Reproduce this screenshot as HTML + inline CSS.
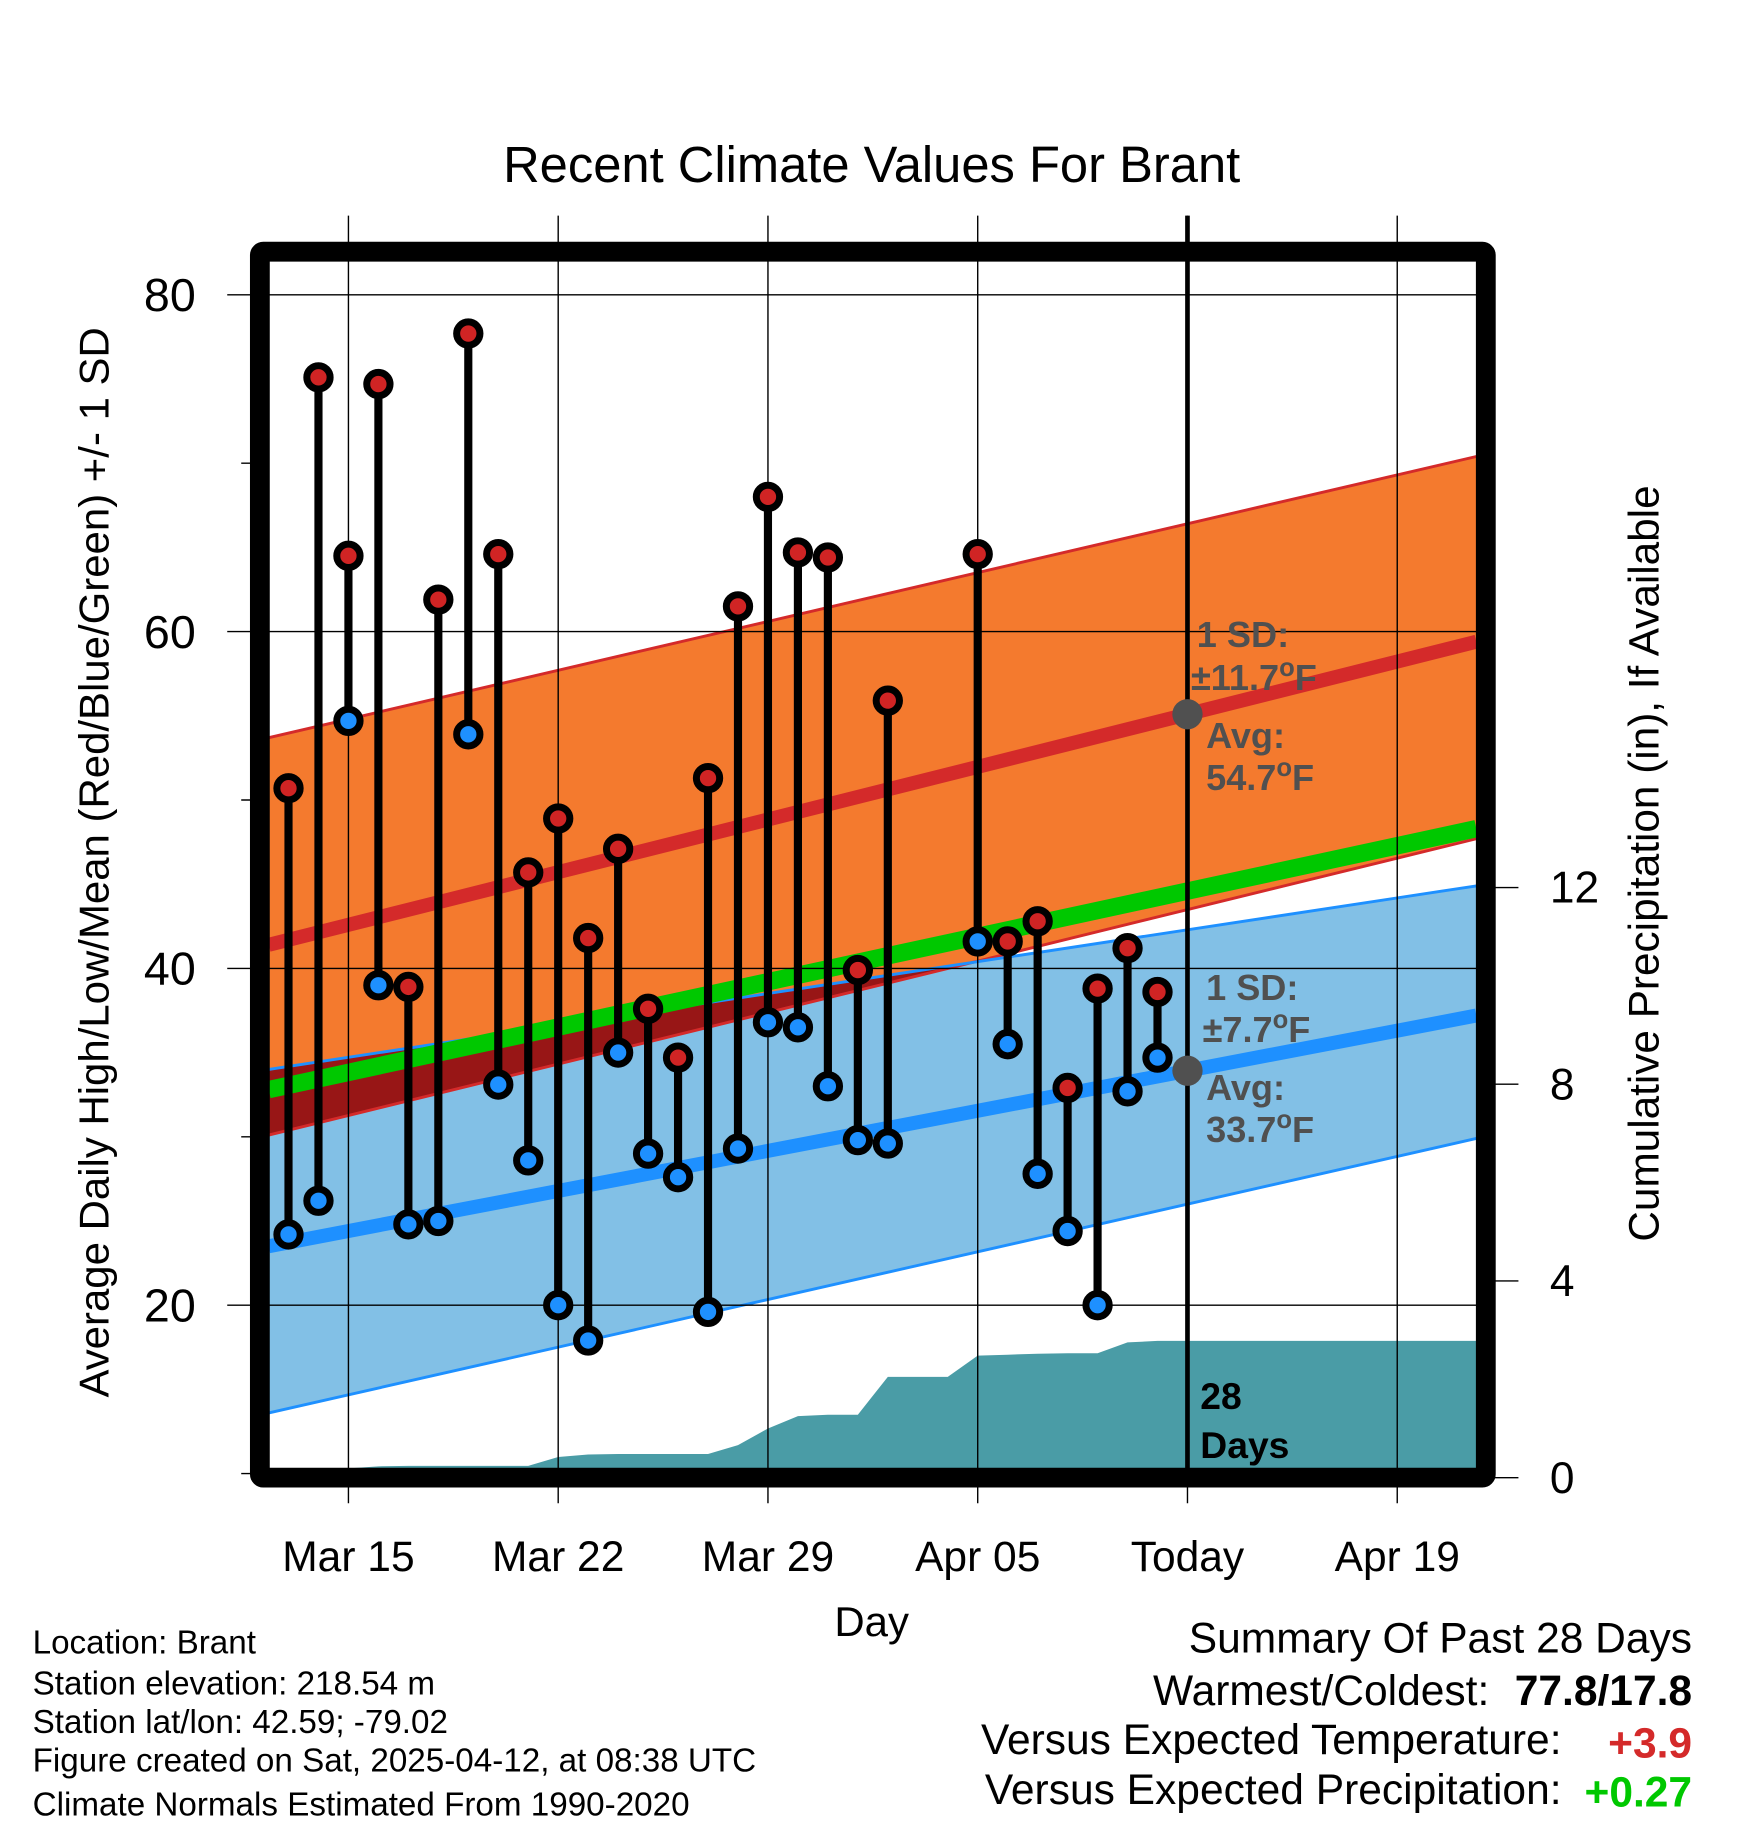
<!DOCTYPE html>
<html><head><meta charset="utf-8"><style>
html,body{margin:0;padding:0;background:#fff;}
svg{display:block;font-family:"Liberation Sans",sans-serif;}
</style></head><body>
<svg id="chart" xmlns="http://www.w3.org/2000/svg" width="1748" height="1828" viewBox="0 0 1500 1568.65">
<g id="bands"></g><g id="grid"></g><g id="marks"></g><g id="frame"></g><g id="labels"></g>
</svg>
<script>
// data (day index relative to Mar 15)
const days = [-2,-1,0,1,2,3,4,5,6,7,8,9,10,11,12,13,14,15,16,17,18,21,22,23,24,25,26,27];
const highs = [50.7,75.1,64.5,74.7,38.9,61.9,77.7,64.6,45.7,48.9,41.8,47.1,37.6,34.7,51.3,61.5,68.0,64.7,64.4,39.9,55.9,64.6,41.6,42.8,32.9,38.8,41.2,38.6];
const lows = [24.2,26.2,54.7,39.0,24.8,25.0,53.9,33.1,28.6,20.0,17.9,35.0,29.0,27.6,19.6,29.3,36.8,36.5,33.0,29.8,29.6,41.6,35.5,27.8,24.4,20.0,32.7,34.7];
const normalDays = [-2.66,37.64];
const avgHigh = [41.4,59.4];
const avgLow = [23.5,37.2];
const avgMean = [32.8,48.3];
const orangeTop = [53.7,70.4];
const orangeBot = [30.1,47.7];
const blueTop = [34.0,44.9];
const blueBot = [13.6,29.9];
const precipDays = [-2.66,-2,-1,0,1,2,3,4,5,6,7,8,9,10,11,12,13,14,15,16,17,18,19,20,21,22,23,24,25,26,27,37.64];
const precipCum = [0,0,0,0,0.23,0.24,0.24,0.24,0.24,0.24,0.42,0.47,0.48,0.48,0.48,0.48,0.66,1.0,1.25,1.28,1.28,2.05,2.05,2.05,2.48,2.5,2.52,2.53,2.53,2.75,2.78,2.78];
const xTicks = [0,7,14,21,28,35];
const xTickLabels = ["Mar 15","Mar 22","Mar 29","Apr 05","Today","Apr 19"];
const yTicks = [20,40,60,80];
const yMinor = [10,30,50,70];
const pTicks = [0,4,8,12];

const NS="http://www.w3.org/2000/svg";
const L=231,R=1267,T=224,B=1260;
const X=d=>299+d*180/7;
const Y=v=>253+(80-v)*14.45;
const P=v=>1268-v*42.2;
function mk(parent,tag,attrs,txt){const e=document.createElementNS(NS,tag);for(const k in attrs)e.setAttribute(k,attrs[k]);if(txt!==undefined)e.textContent=txt;document.getElementById(parent).appendChild(e);return e;}
function lin(arr,d){const t=(d-normalDays[0])/(normalDays[1]-normalDays[0]);return arr[0]+(arr[1]-arr[0])*t;}
const xa=normalDays[0],xb=normalDays[1];
function band(top,bot){return `${X(xa)},${Y(top[0])} ${X(xb)},${Y(top[1])} ${X(xb)},${Y(bot[1])} ${X(xa)},${Y(bot[0])}`;}

let e;
e=mk('bands','polygon',{points:band(blueTop,blueBot),fill:'#82c0e6'});

e=mk('bands','polygon',{points:band(orangeTop,orangeBot),fill:'#f47a2e'});

const dc=(()=>{const a0=orangeBot[0]-blueTop[0],a1=orangeBot[1]-blueTop[1];const t=a0/(a0-a1);return xa+(xb-xa)*t;})();
e=mk('bands','polygon',{points:`${X(xa)},${Y(blueTop[0])} ${X(dc)},${Y(lin(blueTop,dc))} ${X(xa)},${Y(orangeBot[0])}`,fill:'#981616'});

e=mk('bands','line',{x1:X(xa),y1:Y(orangeTop[0]),x2:X(xb),y2:Y(orangeTop[1]),stroke:'#d42a2a','stroke-width':2.5});

e=mk('bands','line',{x1:X(xa),y1:Y(orangeBot[0]),x2:X(xb),y2:Y(orangeBot[1]),stroke:'#d42a2a','stroke-width':2.5});

e=mk('bands','line',{x1:X(xa),y1:Y(blueTop[0]),x2:X(xb),y2:Y(blueTop[1]),stroke:'#1e90ff','stroke-width':2.5});

e=mk('bands','line',{x1:X(xa),y1:Y(blueBot[0]),x2:X(xb),y2:Y(blueBot[1]),stroke:'#1e90ff','stroke-width':2.5});

e=mk('bands','line',{x1:X(xa),y1:Y(avgMean[0]),x2:X(xb),y2:Y(avgMean[1]),stroke:'#00c800','stroke-width':15});

e=mk('bands','line',{x1:X(xa),y1:Y(avgHigh[0]),x2:X(xb),y2:Y(avgHigh[1]),stroke:'#d42a2a','stroke-width':12});

e=mk('bands','line',{x1:X(xa),y1:Y(avgLow[0]),x2:X(xb),y2:Y(avgLow[1]),stroke:'#1e90ff','stroke-width':12});

let pp=`${X(precipDays[0])},${B} `;
for(let i=0;i<precipDays.length;i++)pp+=`${X(precipDays[i])},${Math.min(B,P(precipCum[i]))} `;
pp+=`${X(precipDays[precipDays.length-1])},${B}`;
e=mk('bands','polygon',{points:pp,fill:'#4a9ca6'});


xTicks.forEach((d,i)=>{
 e=mk('grid','line',{x1:X(d),y1:185,x2:X(d),y2:1290,stroke:'#000','stroke-width':1.2});
 
 e=mk('labels','text',{x:X(d),y:1348,'font-size':36.5,'text-anchor':'middle'},xTickLabels[i]);
 
});
yTicks.forEach(v=>{
 e=mk('grid','line',{x1:195,y1:Y(v),x2:R,y2:Y(v),stroke:'#000','stroke-width':1.2});
 
 e=mk('labels','text',{x:168,y:Y(v)+14,'font-size':40,'text-anchor':'end'},String(v));
 
});
yMinor.forEach(v=>{
 e=mk('grid','line',{x1:207,y1:Y(v),x2:L,y2:Y(v),stroke:'#000','stroke-width':1.2});
 
});
pTicks.forEach(v=>{
 e=mk('grid','line',{x1:1267,y1:P(v),x2:1303,y2:P(v),stroke:'#000','stroke-width':1.2});
 
 e=mk('labels','text',{x:1330,y:P(v)+13,'font-size':38,'text-anchor':'start'},String(v));
 
});
e=mk('grid','line',{x1:X(28),y1:185,x2:X(28),y2:1268,stroke:'#000','stroke-width':4});


days.forEach((d,i)=>{
 const x=X(d);
 e=mk('marks','line',{x1:x,y1:Y(highs[i]),x2:x,y2:Y(lows[i]),stroke:'#000','stroke-width':7});
 
 e=mk('marks','circle',{cx:x,cy:Y(highs[i]),r:10,fill:'#d02424',stroke:'#000','stroke-width':6});
 
 e=mk('marks','circle',{cx:x,cy:Y(lows[i]),r:10,fill:'#1e90ff',stroke:'#000','stroke-width':6});
 
});
e=mk('marks','circle',{cx:X(28),cy:Y(lin(avgHigh,28)),r:13,fill:'#505050'});

e=mk('marks','circle',{cx:X(28),cy:Y(lin(avgLow,28)),r:13,fill:'#505050'});


e=mk('frame','rect',{x:223,y:216,width:1052,height:1052,fill:'none',stroke:'#000','stroke-width':17,rx:3});


function ann(txt,x,y,deg,unit){
 const t=mk('labels','text',{x:x,y:y,'font-size':31,'font-weight':'bold',fill:'#505050'},txt);
 
 
 if(deg){const s=document.createElementNS(NS,'tspan');s.setAttribute('dy','-12');s.setAttribute('font-size','22');s.textContent='o';t.appendChild(s);
 const u=document.createElementNS(NS,'tspan');u.setAttribute('dy','12');u.textContent='F';t.appendChild(u);}
}
ann("1 SD:",1027,555,false);
ann("\u00b111.7",1022,592,true);
ann("Avg:",1035,642,false);
ann("54.7",1035,678,true);
ann("1 SD:",1035,858,false);
ann("\u00b17.7",1032,894,true);
ann("Avg:",1035,944,false);
ann("33.7",1035,980,true);
e=mk('labels','text',{x:1030,y:1209,'font-size':32,'font-weight':'bold'},"28");

e=mk('labels','text',{x:1030,y:1251,'font-size':32,'font-weight':'bold'},"Days");

</script>
<svg style="position:absolute;left:0;top:0" width="1748" height="1828" viewBox="0 0 1500 1568.65" xmlns="http://www.w3.org/2000/svg">
<text x="748" y="156" font-size="43.5" text-anchor="middle" font-family="Liberation Sans, sans-serif">Recent Climate Values For Brant</text>
<text transform="translate(93,740) rotate(-90)" font-size="36" text-anchor="middle" font-family="Liberation Sans, sans-serif">Average Daily High/Low/Mean (Red/Blue/Green) +/- 1 SD</text>
<text transform="translate(1423,741) rotate(-90)" font-size="36.3" text-anchor="middle" font-family="Liberation Sans, sans-serif">Cumulative Precipitation (in), If Available</text>
<text x="748" y="1404" font-size="36" text-anchor="middle" font-family="Liberation Sans, sans-serif">Day</text>
<g font-size="28.5" font-family="Liberation Sans, sans-serif">
<text x="28" y="1419">Location: Brant</text>
<text x="28" y="1454">Station elevation: 218.54 m</text>
<text x="28" y="1487">Station lat/lon: 42.59; -79.02</text>
<text x="28" y="1520">Figure created on Sat, 2025-04-12, at 08:38 UTC</text>
<text x="28" y="1558">Climate Normals Estimated From 1990-2020</text>
</g>
<g font-size="36.5" font-family="Liberation Sans, sans-serif" text-anchor="end">
<text x="1452" y="1418">Summary Of Past 28 Days</text>
<text x="1278" y="1463">Warmest/Coldest:</text>
<text x="1452" y="1463" font-weight="bold">77.8/17.8</text>
<text x="1340" y="1505">Versus Expected Temperature:</text>
<text x="1452" y="1508" font-weight="bold" fill="#d42a2a">+3.9</text>
<text x="1340" y="1548">Versus Expected Precipitation:</text>
<text x="1452" y="1550" font-weight="bold" fill="#00c800">+0.27</text>
</g>
</svg>
</body></html>
